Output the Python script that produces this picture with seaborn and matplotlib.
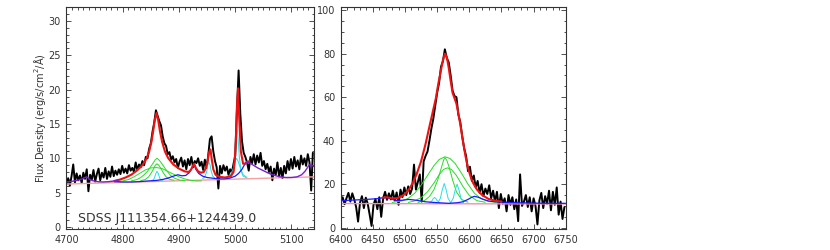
import numpy as np
import matplotlib
matplotlib.use("Agg")
import matplotlib.pyplot as plt
from matplotlib.ticker import MultipleLocator
import seaborn as sns

# ---------------- H-beta / [O III] window (left panel) ----------------
hb_start, hb_step = 4700, 3
hb_flux = [
    6.2, 7.1, 6.0, 7.4, 9.1, 6.5, 7.8, 6.8, 7.5, 6.4,
    7.9, 7.0, 8.4, 5.2, 7.6, 6.9, 8.3, 6.6, 7.7, 8.5,
    6.8, 7.9, 7.2, 8.6, 7.0, 8.1, 7.3, 8.8, 7.4, 8.2,
    7.6, 8.4, 7.7, 8.9, 7.9, 8.5, 7.8, 9.0, 8.2, 8.6,
    8.0, 9.4, 8.3, 9.1, 8.7, 9.6, 9.0, 10.2, 10.0, 11.4,
    12.2, 13.9, 15.2, 17.0, 16.2, 15.4, 14.8, 13.2, 12.2, 11.8,
    10.6, 10.9, 9.8, 10.3, 9.4, 9.9, 8.6, 9.5, 10.1, 8.8,
    9.7, 8.4, 9.9, 9.0, 10.2, 8.7, 9.6, 9.3, 10.0, 8.9,
    9.5, 8.3, 9.8, 8.6, 10.4, 12.8, 13.2, 11.0, 9.6, 8.7,
    5.6, 8.9, 7.8, 9.0, 8.2, 8.8, 7.6, 8.4, 7.9, 9.2,
    10.4, 17.0, 22.8, 16.5, 12.5, 10.8, 10.2, 9.4, 8.2, 10.2,
    9.3, 10.6, 9.1, 10.4, 9.4, 10.8, 8.9, 9.6, 8.4, 9.2,
    8.0, 8.8, 6.8, 8.5, 7.6, 9.4, 7.3, 8.6, 7.1, 8.9,
    7.8, 9.6, 8.3, 9.9, 8.5, 10.2, 8.8, 9.7, 8.4, 10.4,
    9.1, 10.0, 8.9, 10.6, 9.4, 5.3, 10.8,
]

hb_cont_x = [4700, 5140]
hb_cont_y = [6.25, 7.3]

hb_model_x = [4785, 4795, 4805, 4815, 4825, 4835, 4842, 4847, 4851, 4854,
              4857, 4860, 4863, 4866, 4870, 4875, 4881, 4890, 4900, 4910,
              4917, 4921, 4924, 4927, 4930, 4934, 4939, 4944, 4948, 4951,
              4953, 4956, 4958, 4961, 4965, 4972, 4982, 4992, 4997, 4999,
              5001, 5003, 5005, 5007, 5010, 5014, 5020, 5025]
hb_model_y = [6.7, 6.9, 7.2, 7.6, 8.2, 9.0, 9.9, 11.0, 12.4, 13.9,
              15.6, 16.6, 15.6, 14.0, 12.4, 11.0, 10.0, 9.1, 8.5, 8.1,
              8.0, 8.3, 8.8, 9.2, 8.6, 8.1, 7.9, 8.0, 8.6, 9.6,
              10.8, 11.3, 10.0, 8.4, 7.6, 7.3, 7.2, 7.4, 8.0, 9.5,
              12.5, 17.5, 20.2, 16.0, 11.0, 9.2, 9.3, 9.6]

hb_fe_x = [4785, 4800, 4815, 4830, 4845, 4855, 4862, 4870, 4880, 4890,
           4898, 4905, 4912, 4918, 4922, 4925, 4927, 4930, 4935, 4942,
           4950, 4960, 4970, 4980, 4990, 5000, 5006, 5012, 5016, 5020]
hb_fe_y = [6.6, 6.55, 6.55, 6.6, 6.7, 6.75, 6.8, 6.9, 7.1, 7.4,
           7.6, 7.45, 7.5, 7.9, 8.4, 8.9, 9.1, 8.4, 7.8, 7.4,
           7.2, 7.1, 7.0, 7.0, 7.1, 7.4, 7.8, 8.4, 9.0, 9.5]

hb_wing_blue_x = [4700, 4710, 4720, 4728, 4733, 4736, 4740, 4746, 4755, 4765, 4775, 4785, 4792]
hb_wing_blue_y = [6.55, 6.65, 6.8, 7.0, 7.2, 7.3, 7.0, 6.75, 6.6, 6.55, 6.6, 6.7, 6.8]
hb_wing_red_x = [5018, 5020, 5024, 5030, 5040, 5050, 5060, 5070, 5080, 5090,
                 5100, 5110, 5118, 5124, 5128, 5131, 5134, 5138, 5140]
hb_wing_red_y = [9.2, 9.5, 9.4, 9.1, 8.6, 8.2, 7.8, 7.5, 7.3, 7.2,
                 7.2, 7.3, 7.6, 8.1, 8.6, 9.0, 9.1, 8.9, 8.8]

hb_broad = [
    ([4790, 4800, 4810, 4820, 4830, 4840, 4850, 4860, 4870, 4880, 4890, 4900, 4910, 4920, 4930, 4940],
     [6.6, 6.7, 6.9, 7.3, 7.8, 8.3, 8.6, 8.65, 8.5, 8.1, 7.7, 7.3, 7.0, 6.8, 6.7, 6.7]),
    ([4815, 4825, 4832, 4838, 4844, 4849, 4854, 4858, 4861, 4864, 4868, 4873, 4879, 4885, 4892, 4900, 4910],
     [6.7, 6.9, 7.2, 7.6, 8.1, 8.7, 9.3, 9.8, 10.0, 9.8, 9.4, 8.8, 8.1, 7.5, 7.1, 6.85, 6.75]),
    ([4832, 4840, 4846, 4851, 4855, 4858, 4861, 4864, 4868, 4872, 4877, 4883, 4891],
     [6.75, 6.9, 7.3, 7.9, 8.5, 9.0, 9.2, 9.0, 8.5, 7.9, 7.3, 6.95, 6.8]),
]
hb_narrow = [
    ([4851, 4855, 4857, 4859, 4861, 4863, 4865, 4867, 4871],
     [6.75, 6.9, 7.3, 7.8, 8.1, 7.8, 7.3, 6.9, 6.8]),
    ([4942, 4946, 4949, 4951, 4953, 4955, 4957, 4960, 4964],
     [7.0, 7.3, 8.0, 8.9, 9.5, 9.1, 8.2, 7.4, 7.1]),
    ([4989, 4994, 4997, 4999, 5001, 5003, 5005, 5007, 5010, 5014, 5019],
     [7.1, 7.4, 8.3, 10.0, 12.8, 14.6, 13.0, 10.5, 8.2, 7.4, 7.2]),
    ([4984, 4991, 4996, 4999, 5002, 5005, 5009, 5014, 5021],
     [7.1, 7.5, 8.4, 9.3, 10.0, 9.6, 8.6, 7.6, 7.2]),
]

# ---------------- H-alpha window (right panel) ----------------
ha_start, ha_step = 6400, 3
ha_flux = [
    12.5, 14.0, 10.8, 13.6, 16.0, 12.0, 15.8, 13.0, 9.5, 2.8,
    11.5, 14.5, 9.0, 13.8, 11.0, 6.0, 0.8, 10.5, 13.2, 8.5,
    14.0, 5.0, 13.5, 16.5, 12.8, 15.8, 13.0, 17.0, 12.5, 16.2,
    10.5, 17.5, 14.0, 18.5, 15.0, 19.0, 15.5, 18.0, 29.0, 17.5,
    21.0, 24.5, 12.0, 30.5, 33.0, 35.0, 40.0, 45.5, 50.0, 56.0,
    62.0, 66.5, 74.0, 76.5, 82.0, 78.0, 76.0, 70.0, 63.0, 60.5,
    60.0, 52.0, 48.5, 42.0, 36.5, 33.0, 26.0, 28.0, 21.5, 24.0,
    18.5, 21.5, 16.0, 20.0, 14.5, 18.0, 15.5, 19.5, 13.5, 17.0,
    12.0, 16.5, 9.0, 15.5, 11.0, 13.5, 7.5, 15.0, 10.5, 14.0,
    8.5, 13.0, 3.0, 24.5, 10.0, 12.0, 15.0, 9.5, 14.0, 7.5,
    13.5, 10.0, 1.5, 12.5, 16.0, 9.0, 14.5, 11.0, 17.0, 8.0,
    16.5, 10.5, 18.5, 6.0, 12.0, 4.0, 9.5,
]

ha_cont_x = [6400, 6750]
ha_cont_y = [11.1, 10.9]

ha_model_x = [6465, 6472, 6480, 6488, 6495, 6500, 6507, 6512, 6518, 6525,
              6532, 6538, 6543, 6548, 6552, 6556, 6559, 6562, 6565, 6568,
              6571, 6574, 6577, 6580, 6583, 6586, 6590, 6594, 6598, 6602,
              6606, 6612, 6620, 6630, 6640, 6650]
ha_model_y = [13.8, 14.0, 13.5, 13.6, 14.5, 15.5, 18.0, 20.5, 24.5, 30.5,
              38.5, 46.5, 53.0, 59.5, 66.5, 72.5, 77.0, 80.0, 78.5, 73.5,
              67.5, 62.0, 59.5, 57.0, 52.5, 47.5, 40.0, 33.0, 27.5, 23.5,
              20.5, 17.5, 15.0, 13.2, 12.4, 12.0]

ha_fe_x = [6400, 6420, 6440, 6455, 6465, 6470, 6478, 6485, 6495, 6506,
           6518, 6532, 6550, 6568, 6582, 6590, 6598, 6604, 6608, 6614,
           6622, 6631, 6645, 6660, 6672, 6700, 6730, 6750]
ha_fe_y = [12.4, 12.7, 13.0, 13.3, 13.7, 13.8, 13.4, 12.5, 12.6, 13.0,
           12.6, 11.9, 11.5, 11.2, 11.5, 11.9, 13.0, 14.0, 14.4, 14.0,
           13.0, 12.2, 11.8, 11.6, 11.5, 11.3, 11.2, 11.2]

ha_broad = [
    ([6480, 6495, 6505, 6515, 6525, 6535, 6545, 6553, 6562, 6570, 6578, 6588, 6598, 6608, 6618, 6630, 6645],
     [11.6, 12.3, 13.5, 15.8, 19.5, 24.0, 28.5, 31.3, 32.6, 31.8, 29.5, 25.0, 20.0, 15.8, 13.4, 12.0, 11.6]),
    ([6520, 6530, 6538, 6545, 6551, 6556, 6560, 6562, 6565, 6569, 6574, 6580, 6588, 6598],
     [11.6, 12.4, 14.3, 17.5, 22.0, 27.0, 31.0, 32.2, 31.0, 27.5, 22.0, 16.5, 13.0, 11.7]),
    ([6505, 6515, 6525, 6535, 6545, 6553, 6560, 6566, 6572, 6580, 6590, 6600, 6612, 6625],
     [11.6, 12.3, 13.8, 16.5, 20.5, 24.3, 26.8, 27.5, 26.8, 24.0, 19.0, 14.8, 12.4, 11.7]),
]
ha_narrow = [
    ([6538, 6542, 6544, 6546, 6548, 6550, 6554], [11.5, 12.4, 13.4, 13.9, 13.4, 12.4, 11.5]),
    ([6551, 6555, 6558, 6561, 6564, 6567, 6571], [11.5, 13.5, 17.5, 20.3, 17.5, 13.5, 11.5]),
    ([6571, 6575, 6578, 6581, 6584, 6587, 6591], [11.5, 13.5, 17.3, 20.0, 17.3, 13.5, 11.5]),
]

sns.set_style("ticks")
plt.rcParams["font.family"] = ["DejaVu Sans"]

fig = plt.figure(figsize=(8.3, 2.5), dpi=100)
ax1 = fig.add_axes([0.0801, 0.084, 0.2982, 0.8868])
ax2 = fig.add_axes([0.4105, 0.084, 0.2711, 0.8868])


def draw(ax, start, step, flux, cont, fe, model, broad, narrow, cont_color):
    wave = start + step * np.arange(len(flux))
    sns.lineplot(x=wave, y=flux, ax=ax, color="black", lw=1.4, estimator=None, sort=False)
    sns.lineplot(x=cont[0], y=cont[1], ax=ax, color=cont_color, lw=1.0, estimator=None)
    for bx, by in broad:
        sns.lineplot(x=bx, y=by, ax=ax, color="#22dd22", lw=0.7, estimator=None)
    for nx, ny in narrow:
        sns.lineplot(x=nx, y=ny, ax=ax, color="#22e0e8", lw=0.7, estimator=None)
    sns.lineplot(x=fe[0], y=fe[1], ax=ax, color="#1a1aff", lw=0.9, estimator=None)
    sns.lineplot(x=model[0], y=model[1], ax=ax, color="#ee1111", lw=1.5, estimator=None)


draw(ax1, hb_start, hb_step, hb_flux, (hb_cont_x, hb_cont_y), (hb_fe_x, hb_fe_y),
     (hb_model_x, hb_model_y), hb_broad, hb_narrow, "#f4a0a0")
for wx, wy in [(hb_wing_blue_x, hb_wing_blue_y), (hb_wing_red_x, hb_wing_red_y)]:
    sns.lineplot(x=wx, y=wy, ax=ax1, color="#7a1fd0", lw=1.0, estimator=None)

draw(ax2, ha_start, ha_step, ha_flux, (ha_cont_x, ha_cont_y), (ha_fe_x, ha_fe_y),
     (ha_model_x, ha_model_y), ha_broad, ha_narrow, "#f090b0")

ax1.set_xlim(4700, 5140)
ax1.set_ylim(-0.3, 32)
ax1.xaxis.set_major_locator(MultipleLocator(100))
ax1.xaxis.set_minor_locator(MultipleLocator(10))
ax1.yaxis.set_major_locator(MultipleLocator(5))
ax1.yaxis.set_minor_locator(MultipleLocator(1))
ax1.set_ylabel("Flux Density (erg/s/cm$^2$/Å)", fontsize=7, color="#333333", labelpad=0)
ax1.text(4720, 1.2, "SDSS J111354.66+124439.0", fontsize=9, color="#333333", va="center")

ax2.set_xlim(6400, 6750)
ax2.set_ylim(-0.6, 101.3)
ax2.xaxis.set_major_locator(MultipleLocator(50))
ax2.xaxis.set_minor_locator(MultipleLocator(10))
ax2.yaxis.set_major_locator(MultipleLocator(20))
ax2.yaxis.set_minor_locator(MultipleLocator(5))

for ax in (ax1, ax2):
    ax.set_xlabel("")
    ax.tick_params(which="both", direction="in", top=True, right=True,
                   colors="#333333", labelsize=7, width=0.6)
    ax.tick_params(which="major", length=3.6, pad=4)
    ax.tick_params(which="minor", length=1.8)
    for s in ax.spines.values():
        s.set_color("#333333")
        s.set_linewidth(0.8)

fig.savefig("out.png", dpi=100)
